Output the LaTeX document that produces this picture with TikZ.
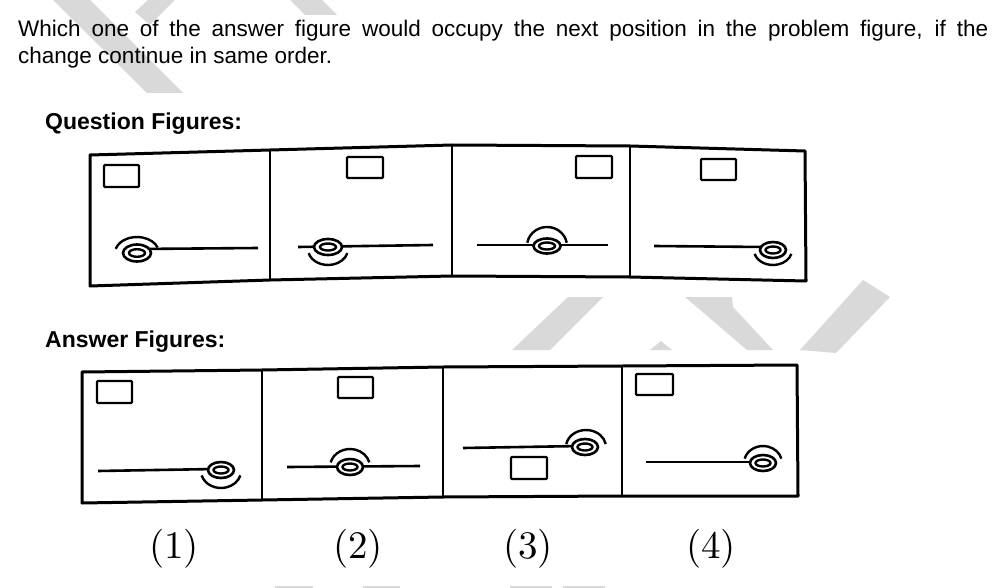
\documentclass[tikz,border=0pt]{standalone}
\usepackage{fontspec}
\setsansfont{Liberation Sans}
\newfontfamily\numfont{lmroman10-regular.otf}
\begin{document}
\begin{tikzpicture}[x=1pt, y=-1pt,
  txt/.style={font=\sffamily\fontsize{22.5}{25}\selectfont, anchor=base west, inner sep=0pt},
  head/.style={font=\sffamily\bfseries\fontsize{23}{25}\selectfont, anchor=base west, inner sep=0pt},
  num/.style={font=\numfont\fontsize{39}{42}\selectfont, inner sep=0pt},
  frame/.style={line width=3pt, line join=round},
  divider/.style={line width=2.6pt},
  box/.style={line width=2.4pt, rounded corners=1pt},
  rod/.style={line width=2.6pt},
  washer/.style={line width=2.6pt, fill=white},
  ring/.style={line width=2.4pt},
  wm/.style={fill=black!15, draw=none}]

  \useasboundingbox (0,0) rectangle (1008,588);

  % watermark
  \fill[wm] (53,0) -- (90,0) -- (183,93) -- (147,93) -- cycle;
  \fill[wm] (148,0) -- (175,0) -- (150,25) -- (135,12) -- cycle;
  \fill[wm] (290,0) -- (322,0) -- (337,15) -- (305,15) -- cycle;
  \fill[wm] (512,350) -- (550,350) -- (603,297) -- (568,297) -- cycle;
  \fill[wm] (650,350) -- (672,350) -- (661,341) -- cycle;
  \fill[wm] (685,297) -- (732,297) -- (733,307) -- (773,350) -- (747,350) -- cycle;
  \fill[wm] (863,280) -- (890,297) -- (836,353) -- (800,350) -- cycle;
  \fill[wm] (275,586) rectangle (313,588);
  \fill[wm] (363,586) rectangle (400,588);
  \fill[wm] (510,586) rectangle (552,588);
  \fill[wm] (563,586) rectangle (605,588);

  \node[txt] (line1) at (18,37) {\makebox[970pt][s]{Which one of the answer figure would occupy the next position in the problem figure, if the}};
  \node[txt] (line2) at (18,64) {change continue in same order.};
  \node[head] (qhead) at (45,130) {Question Figures:};
  \node[head] (ahead) at (45,347) {Answer Figures:};

  % question figures
  \draw[frame] (90,155) -- (270,150) -- (452,145) -- (630,146) -- (805,151)
    -- (806,281) -- (630,277) -- (452,276) -- (270,280) -- (90,286) -- cycle;
  \draw[divider] (270,150) -- (270,280);
  \draw[divider] (452,145) -- (452,276);
  \draw[divider] (630,146) -- (630,277);

  \draw[box] (104,165) rectangle (139,187);
  \draw[rod] (137,249) -- (258,248);
  \draw[washer] (137,253) ellipse[x radius=14pt, y radius=8.5pt];
  \draw[ring] (137,253) ellipse[x radius=8pt, y radius=3.8pt];
  \draw[ring] (137,253) ++(165:22pt and 16pt) arc[start angle=165, end angle=20, x radius=22pt, y radius=16pt];

  \draw[box] (347,157) rectangle (383,178);
  \draw[rod] (298,247) -- (433,245);
  \draw[washer] (328,247) ellipse[x radius=14pt, y radius=8pt];
  \draw[ring] (328,247) ellipse[x radius=8pt, y radius=3.5pt];
  \draw[ring] (328,249) ++(195:20pt and 16pt) arc[start angle=195, end angle=345, x radius=20pt, y radius=16pt];

  \draw[box] (576,156) rectangle (612,178);
  \draw[rod] (477,245) -- (608,245);
  \draw[washer] (547,246) ellipse[x radius=13.5pt, y radius=7.5pt];
  \draw[ring] (547,246) ellipse[x radius=8pt, y radius=3.5pt];
  \draw[ring] (547,246) ++(170:20pt and 19pt) arc[start angle=170, end angle=10, x radius=20pt, y radius=19pt];

  \draw[box] (701,159) rectangle (736,180);
  \draw[rod] (654,246) -- (765,247);
  \draw[washer] (773,250) ellipse[x radius=13pt, y radius=8pt];
  \draw[ring] (773,250) ellipse[x radius=7.5pt, y radius=3.5pt];
  \draw[ring] (773,250) ++(195:19pt and 15pt) arc[start angle=195, end angle=345, x radius=19pt, y radius=15pt];

  % answer figures
  \draw[frame] (82,372) -- (262,370) -- (443,367) -- (622,366) -- (797,365)
    -- (798,496) -- (622,496) -- (443,497) -- (262,500) -- (82,503) -- cycle;
  \draw[divider] (262,370) -- (262,500);
  \draw[divider] (443,367) -- (443,497);
  \draw[divider] (622,366) -- (622,496);

  \draw[box] (97,381) rectangle (132,403);
  \draw[rod] (98,471) -- (215,469);
  \draw[washer] (221,470) ellipse[x radius=13pt, y radius=8pt];
  \draw[ring] (221,470) ellipse[x radius=7.5pt, y radius=3.5pt];
  \draw[ring] (221,471) ++(195:20pt and 17pt) arc[start angle=195, end angle=345, x radius=20pt, y radius=17pt];

  \draw[box] (338,377) rectangle (373,398);
  \draw[rod] (287,467) -- (420,466);
  \draw[washer] (350,467) ellipse[x radius=13pt, y radius=8pt];
  \draw[ring] (350,467) ellipse[x radius=7.5pt, y radius=3.5pt];
  \draw[ring] (350,467) ++(165:20pt and 18pt) arc[start angle=165, end angle=15, x radius=20pt, y radius=18pt];

  \draw[box] (511,457) rectangle (547,479);
  \draw[rod] (463,448) -- (580,446);
  \draw[washer] (585,447) ellipse[x radius=13pt, y radius=8pt];
  \draw[ring] (585,447) ellipse[x radius=7.5pt, y radius=3.5pt];
  \draw[ring] (586,447) ++(170:20pt and 17pt) arc[start angle=170, end angle=10, x radius=20pt, y radius=17pt];

  \draw[box] (636,374) rectangle (673,395);
  \draw[rod] (646,462) -- (755,462);
  \draw[washer] (763,463) ellipse[x radius=13pt, y radius=8pt];
  \draw[ring] (763,463) ellipse[x radius=7.5pt, y radius=3.5pt];
  \draw[ring] (763,463) ++(165:19pt and 17pt) arc[start angle=165, end angle=15, x radius=19pt, y radius=17pt];

  \node[num] (opt1) at (174,549) {(1)};
  \node[num] (opt2) at (358,549) {(2)};
  \node[num] (opt3) at (528,549) {(3)};
  \node[num] (opt4) at (711,549) {(4)};
\end{tikzpicture}
\end{document}
